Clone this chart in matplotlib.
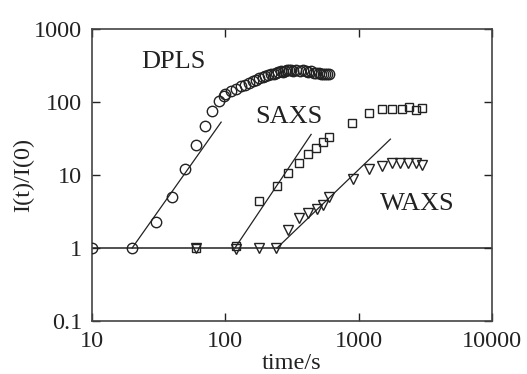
import numpy
from matplotlib import pyplot

pyplot.rcParams['font.family'] = 'serif'
pyplot.rcParams['font.serif'] = ['Liberation Serif', 'DejaVu Serif']

# DATA
# DPLS (circles)
dpls_t = [10, 20, 30, 40, 50, 60, 70, 80, 90, 98,
		100, 110, 120, 130, 140, 150, 160, 170, 180, 190,
		200, 210, 220, 230, 240, 250, 260, 270, 280, 290,
		300, 310, 320, 340, 360, 380, 400, 420, 440, 460,
		480, 500, 520, 540, 560, 580, 600]
dpls_i = [1.0, 1.0, 2.3, 5.0, 12, 26, 47, 75, 103, 122,
		128, 140, 152, 163, 172, 182, 192, 200, 210, 218,
		228, 232, 240, 245, 250, 255, 262, 258, 268, 272,
		270, 276, 268, 272, 265, 270, 262, 258, 262, 252,
		250, 248, 245, 242, 240, 240, 238]
dpls_fit_t = [20, 93]
dpls_fit_i = [1.0, 53]

# SAXS (squares)
saxs_t = [60, 120, 179, 244, 296, 357, 418, 478, 540, 600,
		890, 1200, 1500, 1780, 2130, 2400, 2700, 3000]
saxs_i = [1.0, 1.07, 4.4, 7.1, 10.6, 14.6, 19.5, 23.5, 28, 33,
		51, 71, 80, 80, 80, 85, 78, 83]
saxs_fit_t = [118, 440]
saxs_fit_i = [1.0, 36]

# WAXS (triangles)
waxs_t = [60, 120, 179, 240, 296, 357, 418, 490, 540, 600,
		900, 1200, 1500, 1780, 2040, 2360, 2700, 3000]
waxs_i = [1.0, 0.97, 1.0, 1.0, 1.77, 2.6, 3.0, 3.4, 3.9, 5.0,
		8.7, 12, 13.3, 14.6, 14.6, 14.6, 14.6, 13.7]
waxs_fit_t = [244, 1730]
waxs_fit_i = [1.0, 31]

xticks = [10, 100, 1000, 10000]
xlabels = ['10', '100', '1000', '10000']
yticks = [0.1, 1, 10, 100, 1000]
ylabels = ['0.1', '1', '10', '100', '1000']

INK = '#222222'

# FIGURE
fig = pyplot.figure(figsize=(5.27, 3.74), dpi=100)
ax = fig.add_axes([0.1746, 0.1417, 0.759, 0.7808])
ax.set_xscale('log')
ax.set_yscale('log')
ax.set_xlim(10, 10000)
ax.set_ylim(0.1, 1000)

# baseline at I(t)/I(0) = 1
ax.axhline(1, color=INK, lw=1.1, zorder=1)

# fitted lines
for ft, fi in [(dpls_fit_t, dpls_fit_i), (saxs_fit_t, saxs_fit_i), (waxs_fit_t, waxs_fit_i)]:
	ax.plot(ft, fi, '-', color=INK, lw=0.9, zorder=2)

# markers
ax.plot(dpls_t, dpls_i, 'o', ms=7.5, mfc='none', mec=INK, mew=1.0, zorder=3)
ax.plot(saxs_t, saxs_i, 's', ms=6.0, mfc='none', mec=INK, mew=1.0, zorder=3)
ax.plot(waxs_t, waxs_i, 'v', ms=6.5, mfc='none', mec=INK, mew=1.0, zorder=3)

# labels in the plot
ax.text(40.6, 353, 'DPLS', fontsize=19, ha='center', va='center', color=INK)
ax.text(299, 62, 'SAXS', fontsize=19, ha='center', va='center', color=INK)
ax.text(2740, 4.0, 'WAXS', fontsize=19, ha='center', va='center', color=INK)

# AXES
ax.set_xticks(xticks)
ax.set_xticklabels(xlabels)
ax.set_yticks(yticks)
ax.set_yticklabels(ylabels)
ax.minorticks_off()
ax.tick_params(which='major', direction='in', length=6, width=1.0, color=INK,
			labelsize=17.5, top=True, right=True, pad=7, labelcolor=INK)
for sp in ax.spines.values():
	sp.set_color('#444444')
	sp.set_linewidth(1.2)

ax.set_xlabel('time/s', fontsize=17.5, color=INK, labelpad=1)
ax.set_ylabel('I(t)/I(0)', fontsize=17.5, color=INK, labelpad=0)

fig.savefig('out.png')
